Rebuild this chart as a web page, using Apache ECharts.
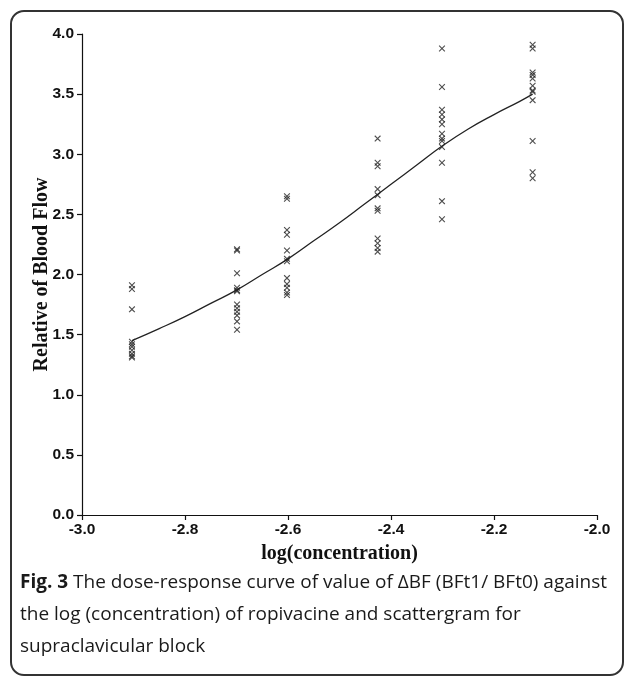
<!DOCTYPE html>
<html>
<head>
<meta charset="utf-8">
<script src="https://cdn.jsdelivr.net/npm/echarts@6/dist/echarts.min.js"></script>
<style>
  html, body { margin: 0; padding: 0; background: #fff; }
  #wrap { position: relative; width: 630px; height: 687px; overflow: hidden; }
  #frame { position: absolute; left: 10px; top: 10px; width: 614px; height: 666px;
           border: 2px solid #333; border-radius: 14px; box-sizing: border-box; }
  #chart { position: absolute; left: 0; top: 0; width: 630px; height: 687px; }
  #caption { position: absolute; left: 20px; top: 565px; font-family: "Open Sans", "Noto Sans", sans-serif;
             font-size: 19px; line-height: 32px; color: #1a1a1a; white-space: nowrap; }
  #caption b { font-weight: 700; }
</style>
</head>
<body>
<div id="wrap">
  <div id="frame"></div>
  <div id="chart"></div>
  <div id="caption"><b>Fig. 3</b> The dose-response curve of value of ΔBF (BFt1/ BFt0) against<br>the log (concentration) of ropivacine and scattergram for<br>supraclavicular block</div>
</div>
<script>
// log(concentration) of each dose group
const doseLogs = [-2.903, -2.699, -2.602, -2.426, -2.301, -2.125];
// relative blood flow observations per dose group
const group1 = [1.91, 1.88, 1.71, 1.44, 1.42, 1.40, 1.37, 1.34, 1.32, 1.31];
const group2 = [2.21, 2.20, 2.01, 1.89, 1.87, 1.86, 1.75, 1.72, 1.69, 1.66, 1.61, 1.54];
const group3 = [2.65, 2.63, 2.37, 2.33, 2.20, 2.13, 2.11, 1.97, 1.92, 1.89, 1.85, 1.83];
const group4 = [3.13, 2.93, 2.90, 2.71, 2.66, 2.55, 2.53, 2.30, 2.26, 2.22, 2.19];
const group5 = [3.88, 3.56, 3.37, 3.33, 3.29, 3.25, 3.17, 3.13, 3.11, 3.06, 2.93, 2.61, 2.46];
const group6 = [3.91, 3.88, 3.68, 3.66, 3.63, 3.57, 3.53, 3.52, 3.45, 3.11, 2.85, 2.80];
// fitted dose-response curve
const curveX = [-2.903, -2.85, -2.8, -2.75, -2.7, -2.65, -2.6, -2.55, -2.5, -2.45, -2.4, -2.35, -2.3, -2.25, -2.2, -2.15, -2.125];
const curveY = [1.45, 1.55, 1.65, 1.76, 1.87, 2.00, 2.13, 2.28, 2.43, 2.59, 2.75, 2.91, 3.07, 3.21, 3.33, 3.44, 3.50];
// axis ticks
const xTicks = [-3.0, -2.8, -2.6, -2.4, -2.2, -2.0];
const yTicks = [0.0, 0.5, 1.0, 1.5, 2.0, 2.5, 3.0, 3.5, 4.0];

const groups = [group1, group2, group3, group4, group5, group6];
const scatterData = [];
groups.forEach((g, i) => g.forEach(v => scatterData.push([doseLogs[i], v])));
const curveData = curveX.map((x, i) => [x, curveY[i]]);

const crossPath = 'path://M0,1.2 L1.2,0 L5,3.8 L8.8,0 L10,1.2 L6.2,5 L10,8.8 L8.8,10 L5,6.2 L1.2,10 L0,8.8 L3.8,5 Z';

const chart = echarts.init(document.getElementById('chart'), null, { renderer: 'canvas' });
const tickFont = { fontFamily: 'Liberation Sans, Arial, sans-serif', fontWeight: 'bold', fontSize: 15.5, color: '#111' };
const titleFont = { fontFamily: 'Liberation Serif, Times New Roman, serif', fontWeight: 'bold', fontSize: 20, color: '#111' };
chart.setOption({
  animation: false,
  backgroundColor: 'transparent',
  grid: { left: 82, top: 34, right: 33, bottom: 172, containLabel: false },
  xAxis: {
    type: 'value', min: xTicks[0], max: xTicks[xTicks.length - 1], interval: 0.2,
    name: 'log(concentration)', nameLocation: 'middle', nameGap: 29, nameMoveOverlap: false,
    nameTextStyle: titleFont,
    axisLine: { lineStyle: { color: '#111', width: 1.2 } },
    axisTick: { show: true, length: 5, lineStyle: { color: '#111', width: 1.2 } },
    axisLabel: Object.assign({ margin: 7, formatter: v => v.toFixed(1) }, tickFont),
    splitLine: { show: false }
  },
  yAxis: {
    type: 'value', min: yTicks[0], max: yTicks[yTicks.length - 1], interval: 0.5,
    name: 'Relative of Blood Flow', nameLocation: 'middle', nameGap: 30, nameRotate: 90, nameMoveOverlap: false,
    nameTextStyle: titleFont,
    axisLine: { show: true, lineStyle: { color: '#111', width: 1.2 } },
    axisTick: { show: true, length: 5, lineStyle: { color: '#111', width: 1.2 } },
    axisLabel: Object.assign({ margin: 8, formatter: v => v.toFixed(1) }, tickFont),
    splitLine: { show: false }
  },
  series: [
    {
      type: 'line', data: curveData, smooth: true, symbol: 'none',
      lineStyle: { color: '#222', width: 1.3 }, z: 2
    },
    {
      type: 'scatter', data: scatterData, symbol: crossPath, symbolSize: 6.5,
      itemStyle: { color: '#222' }, z: 3
    }
  ]
});
</script>
</body>
</html>
